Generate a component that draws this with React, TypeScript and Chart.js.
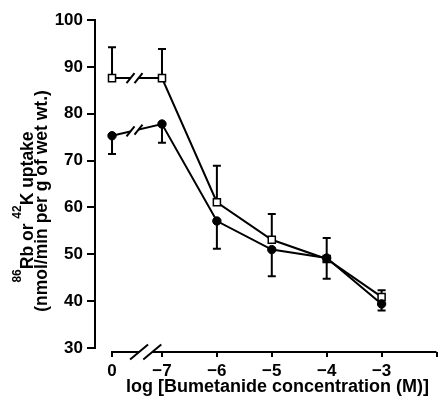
import { useEffect, useRef } from "react";
import { Chart, registerables } from "chart.js";

Chart.register(...registerables);

// Bumetanide concentrations (log M); 0 marks the drug-free control
const concLabels = ["0", "−7", "−6", "−5", "−4", "−3"];
const logConc = [0, -7, -6, -5, -4, -3];

// 86Rb uptake (open squares): mean and S.E.M.
const openMean = [87.6, 87.6, 61.1, 53.1, 49.0, 40.9];
const openSem = [6.6, 6.2, 7.8, 5.5, 4.5, 1.4];

// 42K uptake (filled circles): mean and S.E.M.
const filledMean = [75.3, 77.8, 57.1, 51.0, 49.2, 39.4];
const filledSem = [3.9, 4.0, 5.9, 5.7, 4.4, 1.4];

const yTicks = [30, 40, 50, 60, 70, 80, 90, 100];

// axis geometry: the control sits left of a broken x axis
const CONTROL_POS = -7.91;
const X_MIN = -8.22;
const X_MAX = -2;
const Y_MIN = 29.146;
const Y_MAX = 100;

const FONT = "'Liberation Sans', Arial, Helvetica, sans-serif";

const xPos = logConc.map((v) => (v === 0 ? CONTROL_POS : v));
const xTickPos = [...xPos, X_MAX];
const xTickLabels = [...concLabels, ""];

function slash(ctx: CanvasRenderingContext2D, cx: number, cy: number, hw: number, hh: number) {
  ctx.beginPath();
  ctx.moveTo(cx - hw, cy + hh);
  ctx.lineTo(cx + hw, cy - hh);
  ctx.stroke();
}

const decor = {
  id: "decor",
  beforeDatasetsDraw(chart: any) {
    const { ctx } = chart;
    const x = chart.scales.x;
    const y = chart.scales.y;
    ctx.save();
    ctx.strokeStyle = "#000";
    ctx.lineWidth = 2;
    ctx.lineCap = "butt";
    const bar = (px: number, from: number, to: number) => {
      const y0 = y.getPixelForValue(from);
      const y1 = y.getPixelForValue(to);
      ctx.beginPath();
      ctx.moveTo(px, y0);
      ctx.lineTo(px, y1);
      ctx.moveTo(px - 4, y1);
      ctx.lineTo(px + 4, y1);
      ctx.stroke();
    };
    xPos.forEach((p, i) => {
      const px = x.getPixelForValue(p);
      bar(px, openMean[i], openMean[i] + openSem[i]);
      bar(px, filledMean[i], filledMean[i] - filledSem[i]);
    });
    ctx.restore();
  },
  afterDatasetsDraw(chart: any) {
    const { ctx, chartArea } = chart;
    const x = chart.scales.x;
    const y = chart.scales.y;
    ctx.save();

    // break marks on the segment between control and 10^-7 M
    chart.data.datasets.forEach((_: any, di: number) => {
      const meta = chart.getDatasetMeta(di);
      const a = meta.data[0];
      const b = meta.data[1];
      const bx = a.x + 0.45 * (b.x - a.x);
      const yAt = (px: number) => a.y + ((px - a.x) / (b.x - a.x)) * (b.y - a.y);
      const g = 4;
      ctx.strokeStyle = "#fff";
      ctx.lineWidth = 5;
      ctx.beginPath();
      ctx.moveTo(bx - g, yAt(bx - g));
      ctx.lineTo(bx + g, yAt(bx + g));
      ctx.stroke();
      ctx.strokeStyle = "#000";
      ctx.lineWidth = 2;
      slash(ctx, bx - g, yAt(bx - g), 4, 5);
      slash(ctx, bx + g, yAt(bx + g), 4, 5);
    });

    // y axis line
    ctx.strokeStyle = "#000";
    ctx.lineWidth = 2;
    const ly = chartArea.left;
    ctx.beginPath();
    ctx.moveTo(ly, y.getPixelForValue(Y_MAX) - 1);
    ctx.lineTo(ly, y.getPixelForValue(30) + 1);
    ctx.stroke();

    // x axis line with a break
    const axY = chartArea.bottom;
    const xs = x.getPixelForValue(CONTROL_POS) - 1;
    const x7 = x.getPixelForValue(-7);
    const xe = chartArea.right;
    const bxA = xs + 0.68 * (x7 - xs);
    const ga = 6.6;
    ctx.beginPath();
    ctx.moveTo(xs, axY);
    ctx.lineTo(bxA - ga, axY);
    ctx.moveTo(bxA + ga, axY);
    ctx.lineTo(xe, axY);
    ctx.stroke();
    slash(ctx, bxA - ga, axY, 9, 7.5);
    slash(ctx, bxA + ga, axY, 9, 7.5);

    ctx.restore();
  },
  afterDraw(chart: any) {
    const { ctx } = chart;
    ctx.save();
    ctx.fillStyle = "#000";

    // x title
    ctx.font = `bold 18px ${FONT}`;
    ctx.textAlign = "center";
    ctx.textBaseline = "alphabetic";
    ctx.fillText("log [Bumetanide concentration (M)]", 277.5, 392);

    // y title, two rotated lines
    const main = `bold 17.5px ${FONT}`;
    const sup = `bold 12px ${FONT}`;
    const parts = [
      { t: "86", s: true },
      { t: "Rb or ", s: false },
      { t: "42", s: true },
      { t: "K uptake", s: false },
    ];
    let total = 0;
    const widths = parts.map((p) => {
      ctx.font = p.s ? sup : main;
      const w = ctx.measureText(p.t).width;
      total += w;
      return w;
    });
    ctx.save();
    ctx.translate(33, 207);
    ctx.rotate(-Math.PI / 2);
    ctx.textAlign = "left";
    let cx = -total / 2;
    parts.forEach((p, i) => {
      ctx.font = p.s ? sup : main;
      ctx.fillText(p.t, cx, p.s ? -12 : 0);
      cx += widths[i];
    });
    ctx.restore();

    ctx.save();
    ctx.translate(47, 201);
    ctx.rotate(-Math.PI / 2);
    ctx.textAlign = "center";
    ctx.font = main;
    ctx.fillText("(nmol/min per g of wet wt.)", 0, 0);
    ctx.restore();

    ctx.restore();
  },
};

export default function App() {
  const ref = useRef<HTMLCanvasElement | null>(null);

  useEffect(() => {
    if (!ref.current) return;
    const tickFont = { family: FONT, size: 17, weight: "bold" as const };
    const chart = new Chart(ref.current, {
      type: "line",
      data: {
        datasets: [
          {
            data: xPos.map((p, i) => ({ x: p, y: filledMean[i] })),
            borderColor: "#000",
            borderWidth: 2,
            pointStyle: "circle",
            pointRadius: 4.2,
            pointBackgroundColor: "#000",
            pointBorderColor: "#000",
            pointBorderWidth: 1,
            tension: 0,
          },
          {
            data: xPos.map((p, i) => ({ x: p, y: openMean[i] })),
            borderColor: "#000",
            borderWidth: 2,
            pointStyle: "rect",
            pointRadius: 5,
            pointBackgroundColor: "#fff",
            pointBorderColor: "#000",
            pointBorderWidth: 1.5,
            tension: 0,
          },
        ],
      },
      options: {
        animation: false,
        responsive: true,
        maintainAspectRatio: false,
        layout: { padding: { top: 20, right: 1, left: 0, bottom: 0 } },
        plugins: { legend: { display: false }, tooltip: { enabled: false } },
        scales: {
          x: {
            type: "linear",
            min: X_MIN,
            max: X_MAX,
            afterBuildTicks: (s: any) => {
              s.ticks = xTickPos.map((v) => ({ value: v }));
            },
            afterFit: (s: any) => {
              s.height = 48;
            },
            ticks: {
              autoSkip: false,
              maxRotation: 0,
              color: "#000",
              font: tickFont,
              padding: 4,
              callback: (_v: any, i: number) => xTickLabels[i],
            },
            grid: {
              display: true,
              drawOnChartArea: false,
              drawTicks: true,
              tickLength: 5,
              color: "#000",
              lineWidth: 2,
            },
            border: { display: false },
          },
          y: {
            type: "linear",
            min: Y_MIN,
            max: Y_MAX,
            afterBuildTicks: (s: any) => {
              s.ticks = yTicks.map((v) => ({ value: v }));
            },
            afterFit: (s: any) => {
              s.width = 95;
            },
            ticks: {
              color: "#000",
              font: tickFont,
              padding: 4,
            },
            grid: {
              display: true,
              drawOnChartArea: false,
              drawTicks: true,
              tickLength: 8,
              color: "#000",
              lineWidth: 2,
            },
            border: { display: false },
          },
        },
      },
      plugins: [decor],
    });
    return () => chart.destroy();
  }, []);

  return (
    <div style={{ position: "fixed", left: 0, top: 0, width: 443, height: 400, background: "#fff" }}>
      <canvas ref={ref} />
    </div>
  );
}
